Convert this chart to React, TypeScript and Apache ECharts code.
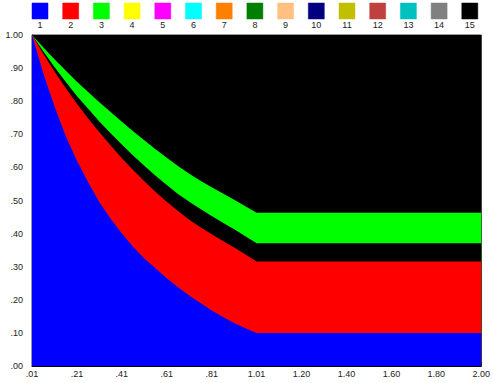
import React, { useEffect, useRef } from "react";
import * as echarts from "echarts";

// Tick labels along the x axis (evenly spaced on screen)
const xTickValues = [0.01, 0.21, 0.41, 0.61, 0.81, 1.01, 1.2, 1.4, 1.6, 1.8, 2.0];
const xTickLabels = [".01", ".21", ".41", ".61", ".81", "1.01", "1.20", "1.40", "1.60", "1.80", "2.00"];

// Legend
const legendLabels = ["1", "2", "3", "4", "5", "6", "7", "8", "9", "10", "11", "12", "13", "14", "15"];
const legendColors = [
  "#0000ff", "#ff0000", "#00ff00", "#ffff00", "#ff00ff", "#00ffff", "#ff8000", "#008000",
  "#ffc080", "#000080", "#c0c000", "#c04040", "#00c0c0", "#808080", "#000000",
];

// Sampled x positions
const xSamples = [0.01, 0.06, 0.11, 0.16, 0.21, 0.26, 0.31, 0.36, 0.41, 0.46, 0.51, 0.56, 0.61, 0.66, 0.71, 0.76, 0.81, 0.86, 0.91, 0.96, 1.01, 2.0];

// Upper boundaries of each band (cumulative)
const blueTop = [1.0, 0.885, 0.785, 0.695, 0.62, 0.555, 0.495, 0.445, 0.4, 0.36, 0.325, 0.295, 0.265, 0.238, 0.213, 0.19, 0.168, 0.148, 0.13, 0.114, 0.1, 0.1];
const redTop = [1.0, 0.944, 0.89, 0.84, 0.792, 0.748, 0.706, 0.666, 0.628, 0.592, 0.558, 0.526, 0.496, 0.468, 0.442, 0.419, 0.398, 0.378, 0.358, 0.337, 0.316, 0.316];
const gapTop = [1.0, 0.951, 0.903, 0.859, 0.816, 0.777, 0.739, 0.703, 0.669, 0.636, 0.605, 0.575, 0.547, 0.52, 0.496, 0.474, 0.453, 0.433, 0.413, 0.392, 0.371, 0.371];
const greenTop = [1.0, 0.963, 0.927, 0.893, 0.859, 0.828, 0.797, 0.767, 0.738, 0.709, 0.682, 0.655, 0.629, 0.604, 0.581, 0.56, 0.54, 0.521, 0.502, 0.483, 0.463, 0.463];
const blackTop = [1.0, 1.0, 1.0, 1.0, 1.0, 1.0, 1.0, 1.0, 1.0, 1.0, 1.0, 1.0, 1.0, 1.0, 1.0, 1.0, 1.0, 1.0, 1.0, 1.0, 1.0, 1.0];

function toIndex(x: number): number {
  for (let k = 0; k < xTickValues.length - 1; k++) {
    const a = xTickValues[k];
    const b = xTickValues[k + 1];
    if (x <= b + 1e-9) return k + (x - a) / (b - a);
  }
  return xTickValues.length - 1;
}

const FONT = "'Liberation Sans', Arial, sans-serif";

export default function App() {
  const ref = useRef<HTMLDivElement>(null);
  useEffect(() => {
    if (!ref.current) return;
    const chart = echarts.init(ref.current, undefined, { renderer: "svg" });

    const mk = (name: string, color: string, vals: number[]) => ({
      name,
      type: "line",
      data: xSamples.map((x, i) => [toIndex(x), vals[i]]),
      symbol: "none",
      showSymbol: false,
      smooth: false,
      lineStyle: { width: 0 },
      itemStyle: { color },
      areaStyle: { color, opacity: 1, origin: "start" },
      silent: true,
    });

    const legendGraphics: any[] = [];
    legendLabels.forEach((lab, i) => {
      const x = 32 + i * 30.7;
      legendGraphics.push({
        type: "rect",
        shape: { x, y: 3, width: 16, height: 16 },
        style: { fill: legendColors[i], stroke: legendColors[i], lineWidth: 0.5, opacity: 1 },
      });
      legendGraphics.push({
        type: "text",
        x: x + 8,
        y: 25,
        style: {
          text: lab,
          fill: "#222",
          font: `9px ${FONT}`,
          textAlign: "center",
          textVerticalAlign: "middle",
        },
      });
    });

    chart.setOption({
      animation: false,
      backgroundColor: "#fff",
      grid: {
        left: 32,
        right: 9,
        top: 35,
        bottom: 17,
        show: true,
        backgroundColor: "#000",
        borderColor: "#333",
        borderWidth: 1,
      },
      xAxis: {
        type: "value",
        min: 0,
        max: xTickValues.length - 1,
        interval: 1,
        axisLine: { show: true, lineStyle: { color: "#000", width: 1 } },
        axisTick: { show: true, inside: true, length: 4, lineStyle: { color: "#000" } },
        splitLine: { show: false },
        axisLabel: {
          margin: 3,
          color: "#222",
          fontSize: 9,
          fontFamily: FONT,
          formatter: (v: number) => xTickLabels[Math.round(v)] ?? "",
        },
      },
      yAxis: {
        type: "value",
        min: 0,
        max: 1,
        interval: 0.1,
        axisLine: { show: true, lineStyle: { color: "#000", width: 1 } },
        axisTick: { show: true, inside: true, length: 5, lineStyle: { color: "#000" } },
        splitLine: { show: false },
        axisLabel: {
          margin: 9,
          color: "#222",
          fontSize: 9,
          fontFamily: FONT,
          formatter: (v: number) => (v >= 1 ? v.toFixed(2) : v.toFixed(2).replace(/^0/, "")),
        },
      },
      series: [
        mk("15", legendColors[14], blackTop),
        mk("3", legendColors[2], greenTop),
        mk("15", legendColors[14], gapTop),
        mk("2", legendColors[1], redTop),
        mk("1", legendColors[0], blueTop),
      ],
      graphic: legendGraphics,
    });
    return () => chart.dispose();
  }, []);
  return (
    <div
      ref={ref}
      style={{ position: "fixed", left: 0, top: 0, width: 493, height: 383, background: "#fff" }}
    />
  );
}
